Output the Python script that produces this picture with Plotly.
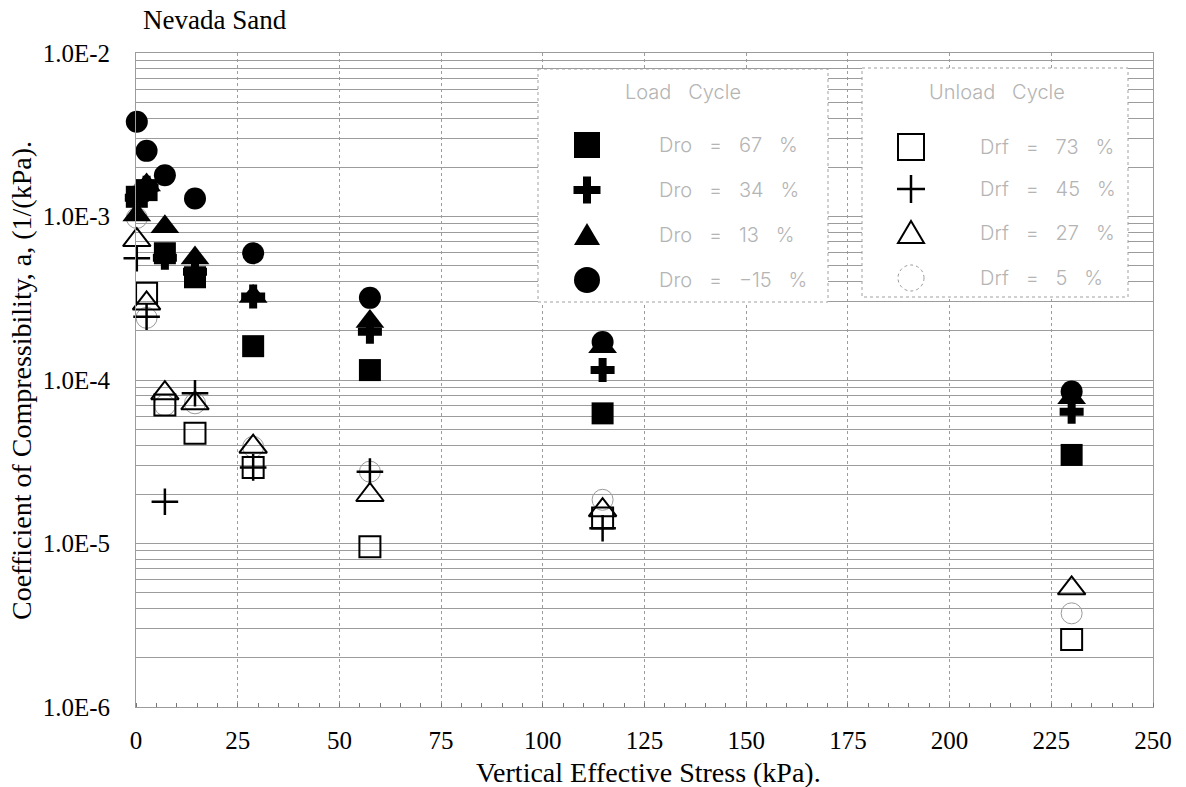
import plotly.graph_objects as go

# Vertical effective stress at each load/unload step (kPa)
stress = [0.2, 2.6, 7.1, 14.5, 28.8, 57.5, 114.7, 230.0]

# Coefficient of compressibility, a (1/kPa) -- load cycle
dro_67 = [1.32e-3, 1.45e-3, 5.96e-4, 4.25e-4, 1.61e-4, 1.15e-4, 6.25e-5, 3.48e-5]
dro_34 = [1.30e-3, 1.50e-3, 5.60e-4, 4.60e-4, 3.24e-4, 1.97e-4, 1.15e-4, 6.40e-5]
dro_13 = [1.02e-3, 1.56e-3, 8.67e-4, 5.57e-4, 3.24e-4, 2.28e-4, 1.60e-4, 7.80e-5]
dro_m15 = [3.80e-3, 2.52e-3, 1.79e-3, 1.29e-3, 5.96e-4, 3.18e-4, 1.71e-4, 8.50e-5]

# Unload cycle
stress_drf73 = [2.6, 7.1, 14.5, 28.8, 57.5, 114.7, 230.0]
drf_73 = [3.39e-4, 7.03e-5, 4.72e-5, 2.92e-5, 9.55e-6, 1.43e-5, 2.59e-6]
stress_drf45 = [0.2, 2.6, 7.1, 14.5, 28.8, 57.5, 114.7]
drf_45 = [5.55e-4, 2.44e-4, 1.80e-5, 8.30e-5, 2.92e-5, 2.75e-5, 1.24e-5]
drf_27 = [7.18e-4, 2.94e-4, 8.30e-5, 7.20e-5, 3.91e-5, 1.98e-5, 1.60e-5, 5.32e-6]
drf_5 = [9.80e-4, 2.40e-4, 7.00e-5, 7.20e-5, 3.90e-5, 2.75e-5, 1.85e-5, 3.74e-6]

load_labels = ["Dro   =   67   %", "Dro   =   34   %", "Dro   =   13   %", "Dro   =   \u221215   %"]
unload_labels = ["Drf   =   73   %", "Drf   =   45   %", "Drf   =   27   %", "Drf   =   5   %"]

x_ticks = list(range(0, 251, 25))
decade_labels = {-6: "1.0E-6", -5: "1.0E-5", -4: "1.0E-4", -3: "1.0E-3", -2: "1.0E-2"}

# ---- page geometry (pixels) ----
W, H = 1186, 787
L, R, T, B = 136, 1153, 53, 707
SERIF = "Liberation Serif, Times New Roman, serif"
KEYFONT = "Inter, DejaVu Sans, Arial, sans-serif"
KEYCOL = "#b4b4b4"


def px(xp):
    return (xp - L) / (R - L)


def py(yp):
    return (B - yp) / (B - T)


# Marker styles for each series
styles = {
    "dro_67": dict(symbol="square", size=22, color="black"),
    "dro_34": dict(symbol="cross", size=20, color="black"),
    "dro_13": dict(symbol="triangle-up", size=25, color="black"),
    "dro_m15": dict(symbol="circle", size=22, color="black"),
    "drf_73": dict(symbol="square-open", size=21, color="black", line=dict(width=2, color="black")),
    "drf_45": dict(symbol="cross-thin-open", size=19, color="black", line=dict(width=2.5, color="black")),
    "drf_27": dict(symbol="triangle-up-open", size=24, color="black", line=dict(width=2, color="black")),
    "drf_5": dict(symbol="circle-open", size=21, color="#9a9a9a", line=dict(width=1, color="#9a9a9a")),
}

fig = go.Figure()

series = [
    ("drf_5", stress, drf_5),
    ("drf_73", stress_drf73, drf_73),
    ("drf_27", stress, drf_27),
    ("drf_45", stress_drf45, drf_45),
    ("dro_67", stress, dro_67),
    ("dro_13", stress, dro_13),
    ("dro_34", stress, dro_34),
    ("dro_m15", stress, dro_m15),
]
for key, xs, ys in series:
    fig.add_trace(go.Scatter(x=xs, y=ys, mode="markers", marker=styles[key],
                             showlegend=False, cliponaxis=False, hoverinfo="x+y"))

# Gridlines at every minor decade step, labels only at decades
y_vals, y_text = [], []
for d in range(-6, -1):
    for m in range(1, 10):
        if d == -2 and m > 1:
            break
        y_vals.append(m * 10 ** d)
        y_text.append(decade_labels[d] if m == 1 else "")

grid_col = "#9c9c9c"
fig.update_layout(
    width=W, height=H,
    margin=dict(l=L, r=W - R, t=T, b=H - B),
    paper_bgcolor="white", plot_bgcolor="white",
    font=dict(family=SERIF, size=25, color="black"),
    showlegend=False,
    xaxis=dict(range=[0, 250], tickvals=x_ticks, ticktext=[str(v) for v in x_ticks],
               showgrid=True, gridcolor=grid_col, gridwidth=1, griddash="dot",
               zeroline=False, showline=True, linecolor=grid_col, linewidth=1, mirror=True,
               ticks="", ticklabelstandoff=11,
               minor=dict(dtick=5, ticks="inside", ticklen=4, tickcolor="#777", showgrid=False),
               tickfont=dict(family=SERIF, size=25)),
    yaxis=dict(type="log", range=[-6, -2], tickvals=y_vals, ticktext=y_text,
               showgrid=True, gridcolor=grid_col, gridwidth=1,
               zeroline=False, showline=True, linecolor=grid_col, linewidth=1, mirror=True,
               ticks="", ticklabelstandoff=20,
               tickfont=dict(family=SERIF, size=25)),
)

# Titles
fig.add_annotation(text="Nevada Sand", xref="paper", yref="paper", x=px(141), y=py(20),
                   xanchor="left", yanchor="middle", showarrow=False,
                   font=dict(family=SERIF, size=27))
fig.add_annotation(text="Vertical Effective Stress (kPa).", xref="paper", yref="paper",
                   x=px(648), y=py(772), xanchor="center", yanchor="middle", showarrow=False,
                   font=dict(family=SERIF, size=28))
fig.add_annotation(text="Coefficient of Compressibility, a, (1/(kPa).", xref="paper", yref="paper",
                   x=px(22), y=py(381), xanchor="center", yanchor="middle", textangle=-90,
                   showarrow=False, font=dict(family=SERIF, size=28))


# Key symbols, drawn as pixel-sized shapes around an anchor point
def key_symbol(key, xa, ya):
    base = dict(xref="paper", yref="paper", xsizemode="pixel", ysizemode="pixel",
                xanchor=px(xa), yanchor=py(ya), layer="above")
    blk = dict(color="black", width=0)
    if key == "dro_67":
        return [dict(type="rect", x0=-13, x1=13, y0=-13, y1=13, fillcolor="black", line=blk, **base)]
    if key == "dro_34":
        a, t = 13.5, 4
        p = (f"M{-a},{t} L{-t},{t} L{-t},{a} L{t},{a} L{t},{t} L{a},{t} L{a},{-t} "
             f"L{t},{-t} L{t},{-a} L{-t},{-a} L{-t},{-t} L{-a},{-t} Z")
        return [dict(type="path", path=p, fillcolor="black", line=blk, **base)]
    if key == "dro_13":
        return [dict(type="path", path="M-13,-10 L13,-10 L0,12 Z", fillcolor="black", line=blk, **base)]
    if key == "dro_m15":
        return [dict(type="circle", x0=-13, x1=13, y0=-13, y1=13, fillcolor="black", line=blk, **base)]
    if key == "drf_73":
        return [dict(type="rect", x0=-13, x1=13, y0=-13, y1=13, fillcolor="rgba(0,0,0,0)",
                     line=dict(color="black", width=2), **base)]
    if key == "drf_45":
        return [dict(type="path", path="M-14,0 L14,0 M0,-14 L0,14",
                     line=dict(color="black", width=2.5), **base)]
    if key == "drf_27":
        return [dict(type="path", path="M-13,-10 L13,-10 L0,12 Z", fillcolor="rgba(0,0,0,0)",
                     line=dict(color="black", width=2), **base)]
    return [dict(type="circle", x0=-13, x1=13, y0=-13, y1=13, fillcolor="rgba(0,0,0,0)",
                 line=dict(color="#9a9a9a", width=1, dash="dot"), **base)]


# Key boxes for the load and unload series
boxes = [(538, 69, 828, 302, "Load   Cycle", 683, 657, 587, [145, 190, 235, 280]),
         (862, 68, 1128, 297, "Unload   Cycle", 997, 978, 911, [147, 189, 233, 278])]
key_syms = [["dro_67", "dro_34", "dro_13", "dro_m15"], ["drf_73", "drf_45", "drf_27", "drf_5"]]
key_text = [load_labels, unload_labels]

for bi, (x0, y0, x1, y1, title, tx, lx, mx, rows) in enumerate(boxes):
    fig.add_shape(type="rect", xref="paper", yref="paper",
                  x0=px(x0), x1=px(x1), y0=py(y0), y1=py(y1),
                  fillcolor="white", line=dict(color="#a0a0a0", width=1, dash="dot"), layer="above")
    fig.add_annotation(text=title.replace(" ", "\u00a0"), xref="paper", yref="paper",
                       x=px(tx), y=py(92), xanchor="center", yanchor="middle", showarrow=False,
                       font=dict(family=KEYFONT, size=20, color=KEYCOL, weight=300))
    for ri, yr in enumerate(rows):
        fig.add_annotation(text=key_text[bi][ri].replace(" ", "\u00a0"), xref="paper", yref="paper",
                           x=px(lx), y=py(yr), xanchor="left", yanchor="middle", showarrow=False,
                           font=dict(family=KEYFONT, size=20, color=KEYCOL, weight=300))
        for shp in key_symbol(key_syms[bi][ri], mx, yr):
            fig.add_shape(**shp)

fig.write_html("out.html")
